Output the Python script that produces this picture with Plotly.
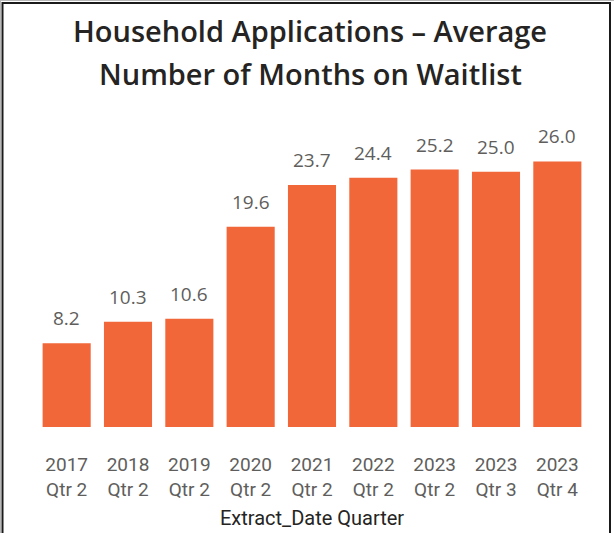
import plotly.graph_objects as go

categories = ["2017 Qtr 2", "2018 Qtr 2", "2019 Qtr 2", "2020 Qtr 2", "2021 Qtr 2",
              "2022 Qtr 2", "2023 Qtr 2", "2023 Qtr 3", "2023 Qtr 4"]
tick_labels = ["2017<br>Qtr 2", "2018<br>Qtr 2", "2019<br>Qtr 2", "2020<br>Qtr 2", "2021<br>Qtr 2",
               "2022<br>Qtr 2", "2023<br>Qtr 2", "2023<br>Qtr 3", "2023<br>Qtr 4"]
avg_months = [8.2, 10.3, 10.6, 19.6, 23.7, 24.4, 25.2, 25.0, 26.0]

W, H = 614, 533
L, R, T, B = 36, 26, 141, 106
PW, PH = W - L - R, H - T - B

def px(x):
    return (x - L) / PW

def py(y):
    return (H - B - y) / PH

BAR = "#F2673A"
LABEL = "#605E5C"
DARK = "#252423"

fig = go.Figure(go.Bar(x=categories, y=avg_months, marker=dict(color=BAR, line=dict(width=0)),
                       hoverinfo="skip"))

annotations = []
for c, v in zip(categories, avg_months):
    annotations.append(dict(x=c, y=v, text=f"{v:.1f}", showarrow=False, yshift=25,
                            yanchor="middle", xanchor="center",
                            font=dict(family="Open Sans", size=19, color=LABEL)))

annotations.append(dict(xref="paper", yref="paper", x=px(310), y=py(30),
                        text="Household Applications – Average", showarrow=False,
                        xanchor="center", yanchor="middle",
                        font=dict(family="Open Sans", size=29, color=DARK, weight=600)))
annotations.append(dict(xref="paper", yref="paper", x=px(310), y=py(73),
                        text="Number of Months on Waitlist", showarrow=False,
                        xanchor="center", yanchor="middle",
                        font=dict(family="Open Sans", size=29, color=DARK, weight=600)))
annotations.append(dict(xref="paper", yref="paper", x=px(312), y=py(518),
                        text="Extract_Date Quarter", showarrow=False,
                        xanchor="center", yanchor="middle",
                        font=dict(family="Roboto", size=20, color=DARK)))

shapes = [
    dict(type="line", xref="paper", yref="paper", x0=px(0.5), x1=px(0.5), y0=py(0), y1=py(533),
         line=dict(color="#B8B8B8", width=1)),
    dict(type="line", xref="paper", yref="paper", x0=px(0), x1=px(614), y0=py(0.5), y1=py(0.5),
         line=dict(color="#B8B8B8", width=1)),
    dict(type="line", xref="paper", yref="paper", x0=px(2.5), x1=px(2.5), y0=py(2), y1=py(533),
         line=dict(color="#1A1A1A", width=2)),
    dict(type="line", xref="paper", yref="paper", x0=px(2), x1=px(611), y0=py(3), y1=py(3),
         line=dict(color="#1A1A1A", width=2)),
    dict(type="line", xref="paper", yref="paper", x0=px(610), x1=px(610), y0=py(2), y1=py(533),
         line=dict(color="#1A1A1A", width=2)),
]

fig.update_layout(
    width=W, height=H,
    margin=dict(l=L, r=R, t=T, b=B, pad=0),
    paper_bgcolor="white", plot_bgcolor="white",
    bargap=0.216,
    showlegend=False,
    annotations=annotations,
    shapes=shapes,
    xaxis=dict(tickmode="array", tickvals=categories, ticktext=tick_labels,
               tickfont=dict(family="Roboto", size=19, color=LABEL),
               ticklabelstandoff=24,
               showline=False, showgrid=False, zeroline=False, ticks="", ticklen=0),
    yaxis=dict(range=[0, 28], visible=False, showgrid=False, zeroline=False),
)

fig.write_html("out.html", config={"displayModeBar": False},
               post_script="document.body.style.margin='0';")
